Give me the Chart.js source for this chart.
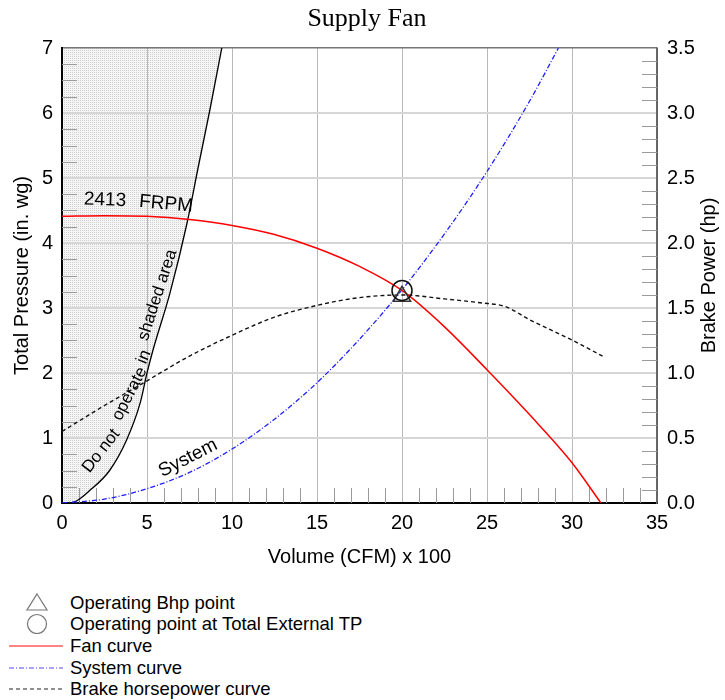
<!DOCTYPE html>
<html>
<head>
<meta charset="utf-8">
<script src="https://cdn.jsdelivr.net/npm/chart.js@4.4.1/dist/chart.umd.min.js"></script>
<style>
  html, body { margin: 0; padding: 0; background: #fff; }
  #wrap { position: relative; width: 725px; height: 700px; font-family: "Liberation Sans", Arial, sans-serif; }
  #chartBox { position: absolute; left: 0; top: 0; width: 725px; height: 580px; }
  .legend { position: absolute; left: 0; top: 592px; width: 725px; }
  .legend-row { position: absolute; left: 0; height: 21px; width: 500px; }
  .legend-row svg { position: absolute; left: 6px; top: 0; }
  .legend-row span { position: absolute; left: 70px; top: 0; font-size: 18.5px; line-height: 21px; color: #000; white-space: nowrap; }
</style>
</head>
<body>
<div id="wrap">
  <div id="chartBox"><canvas id="fanChart"></canvas></div>
  <div class="legend">
    <div class="legend-row" style="top:0px"><svg width="60" height="21"><polygon points="31,2 41,18 21,18" fill="none" stroke="#777" stroke-width="1.2"/></svg><span>Operating Bhp point</span></div>
    <div class="legend-row" style="top:21px"><svg width="60" height="21"><circle cx="31" cy="11" r="9.5" fill="none" stroke="#777" stroke-width="1.2"/></svg><span>Operating point at Total External TP</span></div>
    <div class="legend-row" style="top:43px"><svg width="60" height="21"><line x1="3" y1="11" x2="57" y2="11" stroke="#ff5a5a" stroke-width="1.4"/></svg><span>Fan curve</span></div>
    <div class="legend-row" style="top:65px"><svg width="60" height="21"><line x1="3" y1="11" x2="57" y2="11" stroke="#4a4aff" stroke-width="1.2" stroke-dasharray="5 2 1 2"/></svg><span>System curve</span></div>
    <div class="legend-row" style="top:86px"><svg width="60" height="21"><line x1="3" y1="11" x2="57" y2="11" stroke="#222" stroke-width="1.2" stroke-dasharray="4 3"/></svg><span>Brake horsepower curve</span></div>
  </div>
</div>
<script>
// Fan curve: volume (CFM x 100) vs total pressure (in. wg)
const fanCfm = [0, 2.5, 5, 7.5, 10, 12.5, 15, 17.5, 20, 22.5, 25, 27.5, 30, 31.7];
const fanTp  = [4.41, 4.42, 4.41, 4.36, 4.27, 4.13, 3.92, 3.64, 3.27, 2.71, 2.05, 1.36, 0.62, 0.0];

// System curve
const sysCfm = [0, 2.5, 5, 7.5, 10, 12.5, 15, 17.5, 20, 22.5, 25, 27.5, 29.2];
const sysTp  = [0, 0.06, 0.22, 0.47, 0.83, 1.29, 1.85, 2.52, 3.28, 4.14, 5.1, 6.18, 7.0];

// Brake horsepower curve (right axis, hp)
const bhpCfm = [0, 2.5, 5, 7.5, 10, 12.5, 15, 17.5, 20, 22.5, 24.6, 26.1, 27.5, 29.9, 31.8];
const bhpHp  = [0.55, 0.75, 0.94, 1.13, 1.29, 1.43, 1.52, 1.58, 1.6, 1.57, 1.54, 1.51, 1.41, 1.26, 1.13];

// Do-not-operate boundary (shaded to the left)
const limitCfm = [0, 0.45, 1.8, 2.8, 3.8, 4.6, 5.0, 5.35, 6.35, 7.35, 8.0, 8.7, 9.4];
const limitTp  = [0, 0, 0.23, 0.5, 0.97, 1.54, 2.0, 2.35, 3.23, 4.3, 5.15, 6.05, 7.0];

// Operating points
const opCfm = 20;
const opTp = 3.27;
const opBhp = 1.59;

const xTicks = [0, 5, 10, 15, 20, 25, 30, 35];
const yTicks = [0, 1, 2, 3, 4, 5, 6, 7];
const y2Ticks = [0, 0.5, 1, 1.5, 2, 2.5, 3, 3.5];

const toPts = (xs, ys) => xs.map((x, i) => ({ x: x, y: ys[i] }));

const FONT = "'Liberation Sans', Arial, sans-serif";

function hatchPattern() {
  const c = document.createElement("canvas");
  c.width = 4; c.height = 4;
  const g = c.getContext("2d");
  g.fillStyle = "rgba(244,244,244,0.95)";
  g.fillRect(0, 0, 4, 4);
  g.fillStyle = "rgba(208,208,208,0.95)";
  g.fillRect(0, 0, 1, 1); g.fillRect(2, 2, 1, 1);
  g.fillRect(2, 0, 1, 1); g.fillRect(0, 2, 1, 1);
  return g.createPattern(c, "repeat");
}

const minorTicks = {
  id: "minorTicks",
  beforeDatasetsDraw(chart) {
    const { ctx, chartArea: a, scales } = chart;
    ctx.save();
    ctx.strokeStyle = "#9a9a9a";
    ctx.lineWidth = 1;
    ctx.beginPath();
    for (let v = 1; v < 35; v++) {
      if (v % 5 === 0) continue;
      const px = Math.round(scales.x.getPixelForValue(v)) + 0.5;
      ctx.moveTo(px, a.bottom); ctx.lineTo(px, a.bottom - 15);
    }
    for (let v = 0.25; v < 7; v += 0.25) {
      if (Math.abs(v - Math.round(v)) < 1e-6) continue;
      const py = Math.round(scales.y.getPixelForValue(v)) + 0.5;
      ctx.moveTo(a.left, py); ctx.lineTo(a.left + 15, py);
    }
    for (let k = 1; k < 35; k++) {
      if (k % 5 === 0) continue;
      const py = Math.round(scales.y2.getPixelForValue(k / 10)) + 0.5;
      ctx.moveTo(a.right, py); ctx.lineTo(a.right - 15, py);
    }
    ctx.stroke();
    ctx.restore();
  }
};

const labels = {
  id: "labels",
  afterDatasetsDraw(chart) {
    const { ctx, scales } = chart;
    const put = (text, x, y, deg, size) => {
      ctx.save();
      ctx.translate(scales.x.getPixelForValue(x), scales.y.getPixelForValue(y));
      ctx.rotate(deg * Math.PI / 180);
      ctx.font = size + "px " + FONT;
      ctx.fillStyle = "#000";
      ctx.textAlign = "center";
      ctx.textBaseline = "middle";
      ctx.fillText(text, 0, 0);
      ctx.restore();
    };
    put("2413", 2.53, 4.66, 2, 19);
    put("FRPM", 6.12, 4.6, 5, 19);
    put("Do not", 2.3, 0.8, -52, 17);
    put("operate", 3.98, 1.68, -63, 17);
    put("in", 4.82, 2.25, -68, 17);
    put("shaded area", 5.62, 3.2, -72, 17);
    put("System", 7.41, 0.69, -27, 19);
  },
  afterDraw(chart) {
    const { ctx, chartArea: a } = chart;
    ctx.save();
    ctx.font = "26px 'Liberation Serif', 'Times New Roman', serif";
    ctx.fillStyle = "#000";
    ctx.textAlign = "center";
    ctx.textBaseline = "middle";
    ctx.fillText("Supply Fan", 367, 19);
    // right axis title reads bottom to top, like the left one
    ctx.font = "20px " + FONT;
    ctx.translate(709, (a.top + a.bottom) / 2);
    ctx.rotate(-Math.PI / 2);
    ctx.fillText("Brake Power (hp)", 0, 0);
    ctx.restore();
  }
};

new Chart(document.getElementById("fanChart"), {
  type: "line",
  data: {
    datasets: [
      {
        label: "Operating point at Total External TP",
        data: [{ x: opCfm, y: opTp }],
        yAxisID: "y",
        showLine: false,
        pointStyle: "circle",
        pointRadius: 10,
        pointBorderColor: "#111",
        pointBorderWidth: 1.5,
        pointBackgroundColor: "rgba(0,0,0,0)",
        order: 0
      },
      {
        label: "Operating Bhp point",
        data: [{ x: opCfm, y: opBhp }],
        yAxisID: "y2",
        showLine: false,
        pointStyle: "triangle",
        pointRadius: 10,
        pointBorderColor: "#333",
        pointBorderWidth: 1.5,
        pointBackgroundColor: "rgba(0,0,0,0)",
        order: 0
      },
      {
        label: "Fan curve",
        data: toPts(fanCfm, fanTp),
        yAxisID: "y",
        borderColor: "#ff0000",
        borderWidth: 1.5,
        pointRadius: 0,
        cubicInterpolationMode: "monotone",
        order: 1
      },
      {
        label: "System curve",
        data: toPts(sysCfm, sysTp),
        yAxisID: "y",
        borderColor: "#2020ff",
        borderWidth: 1.3,
        borderDash: [5, 2, 1, 2],
        pointRadius: 0,
        cubicInterpolationMode: "monotone",
        order: 2
      },
      {
        label: "Brake horsepower curve",
        data: toPts(bhpCfm, bhpHp),
        yAxisID: "y2",
        borderColor: "#111",
        borderWidth: 1.4,
        borderDash: [4, 3],
        pointRadius: 0,
        cubicInterpolationMode: "monotone",
        order: 3
      },
      {
        label: "Do not operate",
        data: toPts(limitCfm, limitTp),
        yAxisID: "y",
        borderColor: "#000",
        borderWidth: 1.3,
        pointRadius: 0,
        cubicInterpolationMode: "monotone",
        fill: "end",
        backgroundColor: hatchPattern(),
        order: 4
      }
    ]
  },
  options: {
    responsive: true,
    maintainAspectRatio: false,
    animation: false,
    layout: { padding: { top: 48 } },
    plugins: {
      legend: { display: false },
      tooltip: { enabled: false },
      filler: { drawTime: "beforeDraw" }
    },
    scales: {
      x: {
        type: "linear",
        min: 0, max: 35,
        afterBuildTicks: (s) => { s.ticks = xTicks.map((v) => ({ value: v })); },
        afterFit: (s) => { s.height = 77; },
        ticks: { color: "#000", font: { family: FONT, size: 20 }, padding: 8, maxRotation: 0 },
        grid: {
          drawTicks: false,
          color: (c) => (c.tick && c.tick.value === 35 ? "#666" : "#b8b8b8"),
          lineWidth: 1
        },
        border: { color: "#000", width: 2 },
        title: { display: true, text: "Volume (CFM) x 100", color: "#000", font: { family: FONT, size: 20 }, padding: { top: 0, bottom: 11 } }
      },
      y: {
        type: "linear",
        position: "left",
        min: 0, max: 7,
        afterBuildTicks: (s) => { s.ticks = yTicks.map((v) => ({ value: v })); },
        afterFit: (s) => { s.width = 62; },
        ticks: { color: "#000", font: { family: FONT, size: 20 }, padding: 9 },
        grid: {
          drawTicks: false,
          color: (c) => (c.tick && c.tick.value === 7 ? "#777" : "#d6d6d6"),
          lineWidth: (c) => (c.tick && c.tick.value === 7 ? 1.5 : 2)
        },
        border: { color: "#000", width: 2 },
        title: { display: true, text: "Total Pressure (in. wg)", color: "#000", font: { family: FONT, size: 20 }, padding: { top: 10, bottom: 0 } }
      },
      y2: {
        type: "linear",
        position: "right",
        min: 0, max: 3.5,
        afterBuildTicks: (s) => { s.ticks = y2Ticks.map((v) => ({ value: v })); },
        afterFit: (s) => { s.width = 68; },
        ticks: { color: "#000", font: { family: FONT, size: 20 }, padding: 10, callback: (v) => Number(v).toFixed(1) },
        grid: { display: false, drawTicks: false },
        border: { color: "#666", width: 1.5 },
        title: { display: false }
      }
    }
  },
  plugins: [minorTicks, labels]
});
</script>
</body>
</html>
